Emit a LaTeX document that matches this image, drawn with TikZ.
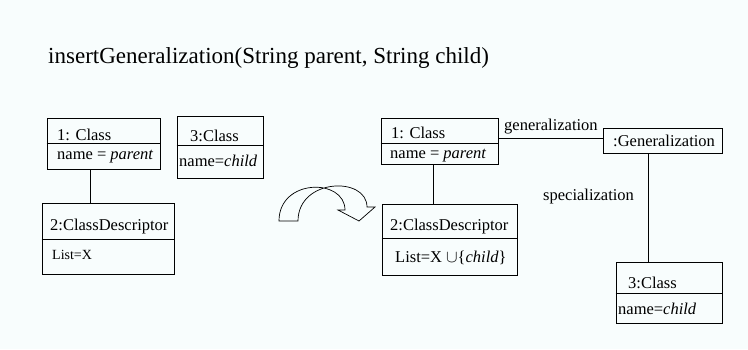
\documentclass[tikz,border=0pt]{standalone}
\usepackage{fontspec}
\setmainfont{Liberation Serif}
\definecolor{bg}{RGB}{248,253,253}
\begin{document}
\begin{tikzpicture}[x=1pt,y=-1pt,
  box/.style={draw, line width=0.8pt, inner sep=0pt},
  div/.style={line width=0.8pt},
  conn/.style={line width=0.8pt},
  lbl/.style={inner sep=0pt, anchor=base west, font=\fontsize{16.5}{19}\selectfont},
  small/.style={inner sep=0pt, anchor=base west, font=\fontsize{14}{17}\selectfont},
  ttl/.style={inner sep=0pt, anchor=base west, font=\fontsize{23}{27}\selectfont}]
\path[fill=bg] (0,0) rectangle (748,349);
\useasboundingbox (0,0) rectangle (748,349);

\node[ttl] (title) at (48,63) {insertGeneralization(String parent, String child)};

% left side
\node[box, minimum width=113pt, minimum height=51pt] (L1) at (103.5,143.5) {};
\draw[div] ([yshift=-26pt]L1.north west) -- ([yshift=-26pt]L1.north east);
\node[lbl] (L1a) at (57,140.7) {1: Class};
\node[lbl] (L1b) at (57,159.5) {name = \textit{parent}};

\node[box, minimum width=86pt, minimum height=62pt] (L3) at (220,147) {};
\draw[div] ([yshift=-30pt]L3.north west) -- ([yshift=-30pt]L3.north east);
\node[lbl] (L3a) at (190,141.7) {3:Class};
\node[lbl] (L3b) at (179,166) {name=\textit{child}};

\node[box, minimum width=132pt, minimum height=71pt] (L2) at (108,238.5) {};
\draw[div] ([yshift=-37pt]L2.north west) -- ([yshift=-37pt]L2.north east);
\node[lbl] (L2a) at (50,230) {2:ClassDescriptor};
\node[small] (L2b) at (52,259) {List=X};

\coordinate (xa) at (90,0);
\draw[conn] (L1.south -| xa) -- (L2.north -| xa);

% transformation arrow
\draw[line width=0.7pt, line join=miter]
  (279,221) .. controls (279,178) and (345,178) .. (345,210)
  -- (338,210) -- (359,221) -- (375,207) -- (367,207)
  .. controls (367,176) and (298,178) .. (298,221) -- cycle;

% right side
\node[box, minimum width=117pt, minimum height=46pt] (R1) at (439.5,141) {};
\draw[div] ([yshift=-26pt]R1.north west) -- ([yshift=-26pt]R1.north east);
\node[lbl] (R1a) at (391,138) {1: Class};
\node[lbl] (R1b) at (390,158) {name = \textit{parent}};

\node[box, minimum width=135pt, minimum height=71pt] (R2) at (449.5,239.5) {};
\draw[div] ([yshift=-35pt]R2.north west) -- ([yshift=-35pt]R2.north east);
\node[lbl] (R2a) at (390,230) {2:ClassDescriptor};
\node[lbl] (R2b) at (395,262) {List=X $\cup$\{\textit{child}\}};

\node[box, minimum width=119pt, minimum height=25pt] (G) at (662.5,140.5) {};
\node[lbl] (Ga) at (613,146) {:Generalization};

\node[box, minimum width=106pt, minimum height=61pt] (R3) at (669,292.5) {};
\draw[div] ([yshift=-32pt]R3.north west) -- ([yshift=-32pt]R3.north east);
\node[lbl] (R3a) at (628,288) {3:Class};
\node[lbl] (R3b) at (618,314) {name=\textit{child}};

\coordinate (xb) at (433,0);
\draw[conn] (R1.south -| xb) -- (R2.north -| xb);
\coordinate (yc) at (0,138);
\draw[conn] (R1.east |- yc) -- (G.west |- yc);
\coordinate (xd) at (648,0);
\draw[conn] (G.south -| xd) -- (R3.north -| xd);

\node[lbl] (gen) at (504,130.5) {generalization};
\node[lbl] (spec) at (543,200.5) {specialization};
\end{tikzpicture}
\end{document}
